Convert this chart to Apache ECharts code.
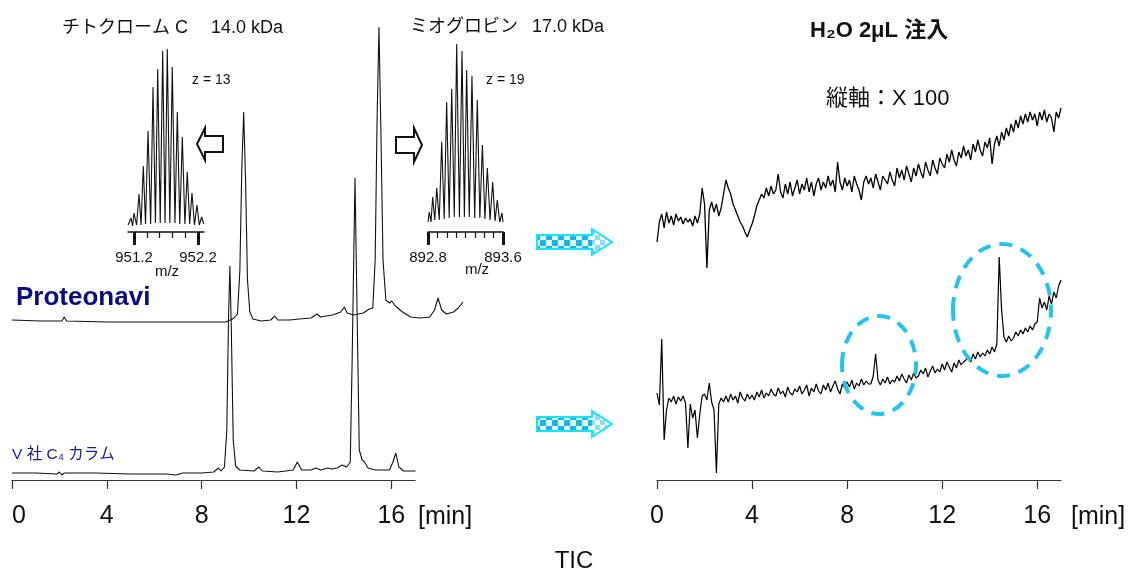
<!DOCTYPE html>
<html>
<head>
<meta charset="utf-8">
<title>TIC</title>
<script src="https://cdn.jsdelivr.net/npm/echarts@6/dist/echarts.min.js"></script>
<style>
  html, body { margin: 0; padding: 0; background: #fff; }
  #chart { width: 1129px; height: 574px; }
</style>
</head>
<body>
<div id="chart"></div>
<script>
const FONT = "'Liberation Sans', 'Noto Sans CJK JP', sans-serif"

// time axis ticks [min]
const timeTicks = [0, 4, 8, 12, 16]

// left: TIC chromatograms, [time(min), intensity]
const proteonaviTrace = [
  [0, 160], [1.2, 159], [2.1, 159], [2.2, 163], [2.3, 159], [4, 158], [6, 158], [8, 158],
  [9.0, 158], [9.2, 160], [9.35, 162], [9.5, 166], [9.6, 210], [9.68, 310], [9.76, 368],
  [9.84, 300], [9.92, 200], [10.02, 168], [10.15, 161], [10.5, 159], [10.9, 160], [11.07, 164],
  [11.2, 160], [11.7, 160], [12.1, 161], [12.6, 162], [12.85, 166], [13.0, 163], [13.5, 165],
  [13.85, 168], [14.0, 173], [14.12, 167], [14.4, 165], [14.8, 167], [15.05, 171], [15.2, 172],
  [15.3, 220], [15.38, 360], [15.46, 453], [15.54, 350], [15.63, 220], [15.75, 180], [15.9, 177],
  [16.0, 179], [16.15, 174], [16.45, 168], [16.8, 163], [17.2, 162], [17.6, 163], [17.8, 170],
  [17.95, 182], [18.1, 170], [18.3, 166], [18.6, 168], [18.8, 172], [19.0, 178]
]
const c4Trace = [
  [0, 7], [1.0, 7], [1.9, 6], [2.0, 8], [2.1, 5], [2.2, 7], [3.5, 7], [5.0, 6], [6.5, 6],
  [6.9, 5], [7.2, 7], [8.0, 7], [8.5, 8], [8.7, 12], [8.8, 9], [8.95, 13], [9.05, 50],
  [9.12, 160], [9.18, 214], [9.24, 150], [9.32, 40], [9.42, 14], [9.6, 10], [10.2, 9],
  [10.4, 13], [10.55, 9], [11.2, 8], [11.85, 10], [12.02, 18], [12.2, 10], [12.6, 10],
  [12.8, 12], [13.0, 10], [13.3, 12], [13.45, 11], [13.7, 12], [13.9, 15], [14.1, 13],
  [14.25, 18], [14.33, 120], [14.45, 302], [14.55, 150], [14.63, 30], [14.75, 20], [14.85, 18],
  [15.0, 12], [15.3, 10], [15.9, 10], [16.05, 18], [16.17, 27], [16.3, 13], [16.5, 9], [17.0, 9]
]

// isotope profiles, [m/z, intensity]
const cytCProfile = [
  [951.108, 7], [951.153, 14], [951.178, 6], [951.200, 19], [951.240, 7], [951.278, 38],
  [951.310, 7], [951.345, 66], [951.380, 8], [951.419, 101], [951.460, 8], [951.497, 145],
  [951.535, 9], [951.570, 163], [951.610, 9], [951.648, 181], [951.685, 9], [951.720, 183],
  [951.760, 9], [951.798, 165], [951.840, 9], [951.877, 120], [951.915, 8], [951.955, 95],
  [951.995, 8], [952.033, 60], [952.070, 8], [952.106, 39], [952.145, 7], [952.184, 27],
  [952.220, 7], [952.258, 15], [952.290, 8]
]
const myoProfile = [
  [892.800, 10], [892.814, 20], [892.832, 10], [892.850, 35], [892.872, 12], [892.893, 44],
  [892.920, 12], [892.946, 90], [892.973, 13], [892.999, 130], [893.026, 14], [893.053, 143],
  [893.080, 15], [893.106, 188], [893.135, 15], [893.163, 181], [893.188, 15], [893.212, 162],
  [893.240, 15], [893.269, 156], [893.298, 14], [893.326, 132], [893.353, 14], [893.380, 87],
  [893.407, 13], [893.433, 64], [893.462, 12], [893.490, 50], [893.515, 11], [893.539, 32],
  [893.565, 10], [893.589, 19], [893.600, 10]
]
const cytCMajor = [951.2, 952.2]
const cytCMinor = [951.4, 951.6, 951.8, 952.0]
const myoMajor = [892.8, 893.6]
const myoMinor = [892.9, 893.0, 893.1, 893.2, 893.3, 893.4, 893.5]

// right: H2O 2uL blank runs (x100), one value every 0.1 min from 0 to 17
const blankStep = 0.1
const proteonaviBlank = [
  238, 258, 266, 252, 268, 257, 264, 255, 266, 259,
  263, 256, 262, 258, 261, 254, 264, 257, 266, 292,
  276, 212, 270, 278, 268, 276, 264, 272, 286, 300,
  292, 286, 276, 270, 264, 258, 254, 248, 243, 250,
  256, 264, 274, 280, 286, 282, 292, 284, 294, 286,
  290, 306, 288, 282, 296, 286, 298, 284, 292, 300,
  286, 296, 290, 302, 288, 298, 284, 296, 302, 290,
  298, 292, 304, 294, 300, 288, 318, 298, 290, 302,
  294, 300, 288, 304, 296, 290, 280, 298, 304, 296,
  302, 292, 306, 298, 290, 304, 300, 296, 308, 300,
  294, 312, 302, 310, 300, 314, 306, 298, 312, 304,
  316, 308, 302, 318, 310, 304, 320, 312, 306, 322,
  316, 312, 326, 318, 330, 320, 314, 328, 322, 334,
  324, 330, 320, 336, 328, 340, 330, 324, 338, 332,
  342, 316, 336, 344, 334, 348, 340, 352, 344, 356,
  348, 360, 352, 364, 356, 366, 358, 368, 360, 366,
  354, 368, 360, 370, 358, 366, 362, 348, 368, 362,
  372
]
const c4Blank = [
  87, 75, 141, 40, 70, 82, 78, 84, 76, 83,
  79, 84, 77, 32, 76, 62, 70, 42, 66, 84,
  86, 80, 97, 78, 70, 7, 76, 82, 78, 84,
  78, 86, 80, 84, 77, 88, 82, 79, 86, 81,
  85, 80, 88, 83, 90, 82, 87, 84, 91, 86,
  84, 92, 86, 89, 83, 93, 87, 85, 91, 88,
  94, 86, 90, 95, 84, 92, 88, 96, 89, 86,
  95, 90, 97, 88, 94, 99, 91, 86, 96, 92,
  98, 93, 100, 91, 97, 94, 101, 95, 99, 96,
  96, 104, 126, 100, 95, 101, 97, 103, 96, 100,
  98, 104, 99, 106, 101, 97, 105, 100, 107, 102,
  104, 110, 106, 112, 103, 109, 114, 107, 111, 108,
  116, 110, 118, 113, 108, 117, 112, 120, 115, 118,
  120, 124, 118, 126, 121, 128, 123, 127, 124, 130,
  126, 133, 128, 136, 223, 170, 143, 138, 144, 139,
  142, 148, 144, 150, 146, 152, 148, 154, 150, 156,
  158, 182, 172, 178, 170, 184, 176, 188, 182, 194,
  200
]

const chart = echarts.init(document.getElementById('chart'), null, { renderer: 'canvas' })

function checker(c1, c2, size) {
  const cv = document.createElement('canvas')
  cv.width = size * 2
  cv.height = size * 2
  const ctx = cv.getContext('2d')
  ctx.fillStyle = c2
  ctx.fillRect(0, 0, size * 2, size * 2)
  ctx.fillStyle = c1
  ctx.fillRect(0, 0, size, size)
  ctx.fillRect(size, size, size, size)
  return { image: cv, repeat: 'repeat' }
}

function timeAxis(gridIndex, alignMin) {
  return {
    type: 'value', gridIndex, position: 'bottom', min: 0, max: 17, interval: 4,
    axisLine: { show: true, lineStyle: { color: '#333', width: 1.2 } },
    axisTick: { show: true, length: 9, inside: false, lineStyle: { color: '#333', width: 1.2 } },
    axisLabel: { show: true, fontSize: 25, margin: 24, color: '#111', fontFamily: FONT, alignMinLabel: alignMin },
    splitLine: { show: false }
  }
}
function hiddenAxis(gridIndex, min, max) {
  return { type: 'value', gridIndex, min, max, show: false, splitLine: { show: false } }
}
function mzMajor(gridIndex, min, max, ticks) {
  return {
    type: 'value', gridIndex, position: 'bottom', min, max,
    axisLine: { show: true, lineStyle: { color: '#111', width: 1.5 } },
    axisTick: { show: true, length: 13, customValues: ticks, lineStyle: { color: '#111', width: 3 } },
    axisLabel: { show: true, customValues: ticks, fontSize: 15, margin: 18, color: '#111', fontFamily: FONT, formatter: v => v.toFixed(1) },
    splitLine: { show: false }
  }
}
function mzMinor(gridIndex, min, max, ticks) {
  return {
    type: 'value', gridIndex, position: 'bottom', offset: 0, min, max,
    axisLine: { show: false },
    axisTick: { show: true, length: 6, customValues: ticks, lineStyle: { color: '#111', width: 1.2 } },
    axisLabel: { show: false },
    splitLine: { show: false }
  }
}
function trace(data, xi, yi, width, color) {
  return {
    type: 'line', xAxisIndex: xi, yAxisIndex: yi, data, symbol: 'none',
    lineStyle: { color: color || '#111', width: width || 1 }, silent: true, animation: false
  }
}

const blankData = vals => vals.map((v, i) => [Math.round(i * blankStep * 10) / 10, v])

function txt(text, x, y, size, extra) {
  return {
    type: 'text', x, y, z: 20,
    style: Object.assign({
      text, fontSize: size, fontFamily: FONT, fill: '#111',
      textAlign: 'left', align: 'left', textVerticalAlign: 'middle', verticalAlign: 'middle'
    }, extra || {})
  }
}

function hollowArrow(points) {
  return { type: 'polygon', z: 20, shape: { points }, style: { fill: '#fff', stroke: '#111', lineWidth: 2 } }
}

function checkerArrow(cy) {
  const outline = [[537, cy - 7], [592, cy - 7], [592, cy - 13], [612, cy], [592, cy + 13], [592, cy + 7], [537, cy + 7]]
  return [
    { type: 'rect', z: 18, shape: { x: 537, y: cy - 7, width: 55, height: 14 }, style: { fill: checker('#1ab4e6', '#e2f9ff', 6) } },
    { type: 'polygon', z: 18, shape: { points: [[592, cy - 13], [612, cy], [592, cy + 13]] }, style: { fill: checker('#8edcf5', '#f0fcff', 5) } },
    { type: 'polygon', z: 19, shape: { points: outline }, style: { fill: 'none', stroke: '#12e4ff', lineWidth: 2 } }
  ]
}

function dashedEllipse(cx, cy, rx, ry) {
  return {
    type: 'ellipse', z: 15, shape: { cx, cy, rx, ry },
    style: { fill: 'none', stroke: '#22c4ef', lineWidth: 4, lineDash: [13, 9] }
  }
}

chart.setOption({
  animation: false,
  backgroundColor: '#fff',
  grid: [
    { left: 12, top: 20, width: 403, height: 460, outerBoundsMode: 'none' },
    { left: 12, top: 20, width: 451, height: 460, outerBoundsMode: 'none' },
    { left: 657, top: 20, width: 404, height: 460, outerBoundsMode: 'none' },
    { left: 128, top: 42, width: 76, height: 190, outerBoundsMode: 'none' },
    { left: 428, top: 42, width: 75, height: 190, outerBoundsMode: 'none' }
  ],
  xAxis: [
    timeAxis(0, 'left'),
    hiddenAxis(1, 0, 19),
    timeAxis(2, 'center'),
    mzMajor(3, 951.106, 952.294, cytCMajor),
    mzMinor(3, 951.106, 952.294, cytCMinor),
    mzMajor(4, 892.8, 893.6, myoMajor),
    mzMinor(4, 892.8, 893.6, myoMinor)
  ],
  yAxis: [
    hiddenAxis(0, 0, 460),
    hiddenAxis(1, 0, 460),
    hiddenAxis(2, 0, 460),
    hiddenAxis(3, 0, 190),
    hiddenAxis(4, 0, 190)
  ],
  series: [
    trace(c4Trace, 1, 1, 1.1),
    trace(proteonaviTrace, 1, 1, 1.1),
    trace(blankData(proteonaviBlank), 2, 2, 1.3, '#000'),
    trace(blankData(c4Blank), 2, 2, 1.2, '#000'),
    trace(cytCProfile, 3, 3, 1.1),
    trace(myoProfile, 5, 4, 1.1)
  ],
  graphic: [
    txt('チトクローム C', 62, 28, 18),
    txt('14.0 kDa', 283, 28, 18, { textAlign: 'right', align: 'right' }),
    txt('ミオグロビン', 410, 27, 18),
    txt('17.0 kDa', 604, 27, 18, { textAlign: 'right', align: 'right' }),
    txt('z = 13', 192, 80, 14),
    txt('z = 19', 486, 80, 14),
    txt('m/z', 167, 272, 15, { textAlign: 'center', align: 'center' }),
    txt('m/z', 477, 270, 15, { textAlign: 'center', align: 'center' }),
    txt('Proteonavi', 16, 298, 26, { fontWeight: 'bold', fill: '#0b0b80' }),
    txt('V 社 C₄ カラム', 12, 455, 15.5, { fill: '#1a1a8c' }),
    txt('H₂O 2μL 注入', 810, 31, 22, { fontWeight: 'bold' }),
    txt('縦軸：X 100', 826, 99, 22),
    txt('[min]', 418, 517, 25),
    txt('[min]', 1071, 517, 25),
    txt('TIC', 574, 561, 24, { textAlign: 'center', align: 'center' }),
    hollowArrow([[197, 144], [205, 128], [205, 136], [223, 136], [223, 152], [205, 152], [205, 160]]),
    hollowArrow([[396, 137], [414, 137], [414, 128], [422, 145], [414, 162], [414, 153], [396, 153]]),
    ...checkerArrow(242),
    ...checkerArrow(424),
    dashedEllipse(879, 365, 37, 49),
    dashedEllipse(1002, 310, 49, 66)
  ]
})
</script>
</body>
</html>
